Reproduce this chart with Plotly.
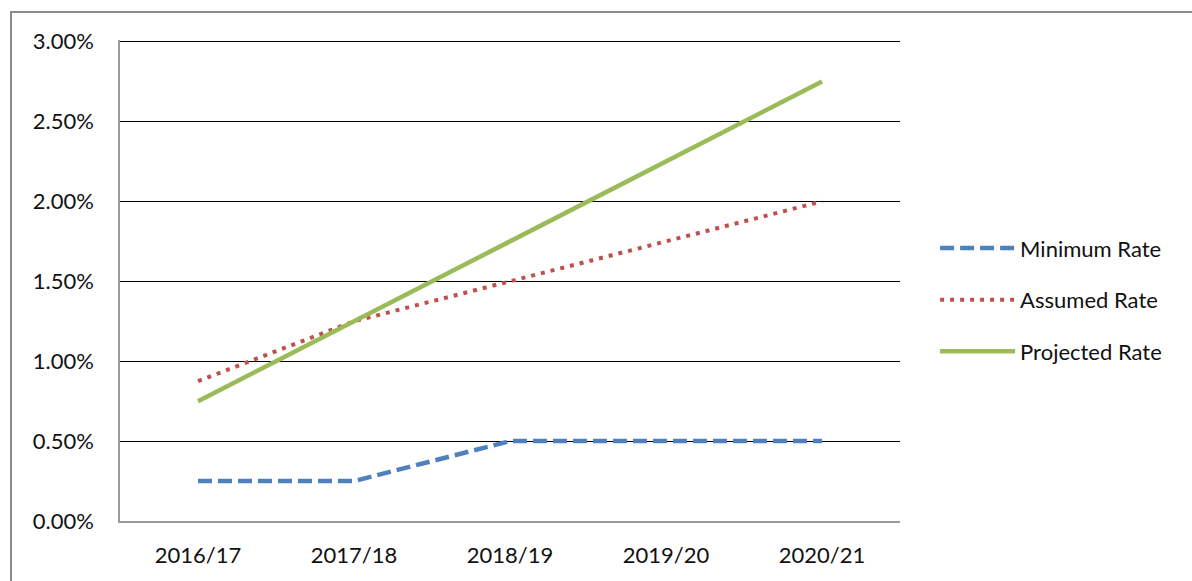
import plotly.graph_objects as go

categories = ["2016/17", "2017/18", "2018/19", "2019/20", "2020/21"]
minimum_rate = [0.25, 0.25, 0.50, 0.50, 0.50]
assumed_rate = [0.875, 1.25, 1.50, 1.75, 2.00]
projected_rate = [0.75, 1.25, 1.75, 2.25, 2.75]
y_ticks = [0, 0.5, 1.0, 1.5, 2.0, 2.5, 3.0]
y_tick_labels = ["0.00%", "0.50%", "1.00%", "1.50%", "2.00%", "2.50%", "3.00%"]

FONT = "Lato"

fig = go.Figure()
fig.add_trace(go.Scatter(x=categories, y=minimum_rate, name="Minimum Rate", mode="lines",
                         line=dict(color="#4F81BD", width=4.5, dash="14px,6px"), legendgroup="a"))
fig.add_trace(go.Scatter(x=categories, y=assumed_rate, name="Assumed Rate", mode="lines",
                         line=dict(color="#C0504D", width=4, dash="4px,6px"), legendgroup="b"))
fig.add_trace(go.Scatter(x=categories, y=projected_rate, name="Projected Rate", mode="lines",
                         line=dict(color="#9BBB59", width=4.5), legendgroup="c"))

fig.update_layout(
    width=1192, height=581,
    margin=dict(l=120, r=292, t=40, b=60),
    paper_bgcolor="white", plot_bgcolor="white",
    font=dict(family=FONT, size=22, color="#111111"),
    legend=dict(x=1.045, y=0.46, xanchor="left", yanchor="middle",
                itemwidth=75, tracegroupgap=20, traceorder="grouped",
                font=dict(family=FONT, size=22, color="#111111")),
    shapes=[dict(type="rect", xref="paper", yref="paper",
                 x0=(11 - 120) / 780, x1=2.0, y0=-1.0, y1=(521 - 12) / 481,
                 line=dict(color="#8C8C8C", width=2), fillcolor="rgba(0,0,0,0)", layer="below")],
)
fig.update_xaxes(type="category", range=[-0.5, 4.5], showgrid=False,
                 showline=True, linecolor="#9A9A9A", linewidth=1.5,
                 ticks="", ticklabelstandoff=14)
fig.update_yaxes(range=[0, 3.01], tickvals=y_ticks, ticktext=y_tick_labels,
                 showgrid=True, gridcolor="#000000", gridwidth=1,
                 showline=True, linecolor="#9A9A9A", linewidth=1.5,
                 zeroline=False, ticks="", ticklabelstandoff=20)

fig.write_html("out.html")
